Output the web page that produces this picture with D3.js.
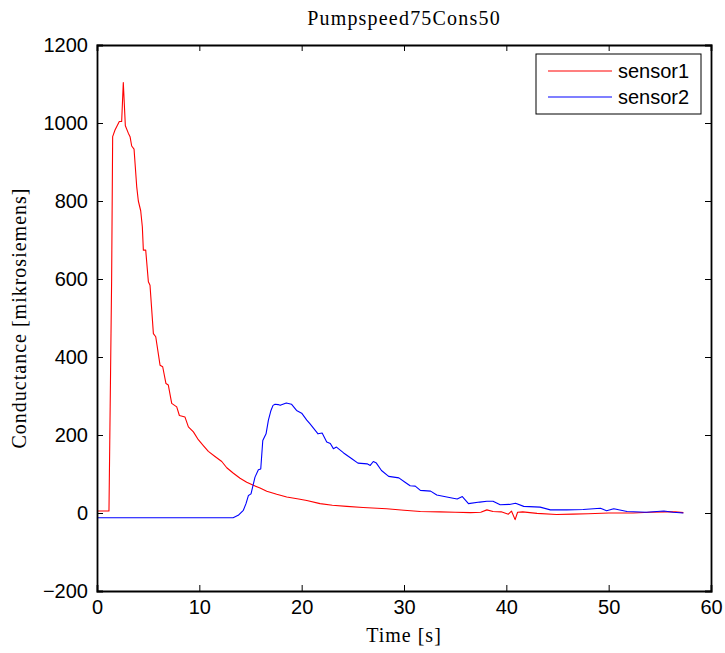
<!DOCTYPE html>
<html>
<head>
<meta charset="utf-8">
<script src="https://cdn.jsdelivr.net/npm/d3@7"></script>
<style>
  html, body { margin: 0; padding: 0; background: #ffffff; }
  svg { display: block; }
</style>
</head>
<body>
<div id="chart"></div>
<script>
const chartTitle = "Pumpspeed75Cons50";
const xLabel = "Time [s]";
const yLabel = "Conductance [mikrosiemens]";
const xTicks = [0, 10, 20, 30, 40, 50, 60];
const yTicks = [-200, 0, 200, 400, 600, 800, 1000, 1200];
const seriesNames = ["sensor1", "sensor2"];
const seriesColors = ["#ff0000", "#0000ff"];

const sensor1Time = [0, 1.17, 1.43, 1.53, 1.76, 2.18, 2.41, 2.57, 2.77, 3.06, 3.23, 3.39, 3.62, 3.88, 4.04, 4.27, 4.43,
  4.53, 4.76, 5.02, 5.18, 5.51, 5.74, 6.16, 6.42, 6.74, 6.97, 7.30, 7.79, 8.05, 8.6, 8.93, 9.42, 9.9, 10.39, 10.88,
  11.53, 12.19, 12.68, 13.33, 13.98, 14.63, 15.28, 15.93, 16.59, 17.56, 18.54, 19.7, 20.5, 21.8, 23.0, 24.4,
  26.0, 28.3, 30.0, 31.6, 33.5, 35.0, 36.5, 37.5, 38.1, 38.7, 39.5, 40.2, 40.5, 40.86, 41.1, 41.6, 43.0, 44.9, 46.5,
  48.0, 50.0, 52.4, 54.0, 55.5, 56.5, 57.3];
const sensor1Values = [5, 5, 600, 965, 982, 1004, 1004, 1104, 993, 974, 965, 941, 933, 837, 800, 775, 734,
  674, 674, 593, 584, 460, 452, 379, 375, 332, 328, 281, 272, 250, 246, 221, 208, 188, 173, 158,
  145, 132, 116, 102, 89, 79, 71, 64, 56, 48, 41, 36, 32, 24, 20, 17,
  14, 11, 7, 4, 3, 2, 1, 2, 8, 4, 3, -3, 5, -17, 2, 3, -1, -4, -3,
  -2, 0, 0, 2, 3, 3, 1];

const sensor2Time = [0, 13.3, 13.8, 14.3, 14.56, 14.8, 15.05, 15.44, 15.77, 16.0, 16.2, 16.52, 16.75, 17.0, 17.2, 17.4,
  17.7, 17.9, 18.5, 19.0, 19.5, 20.0, 20.5, 20.8, 21.6, 22.0, 22.45, 22.8, 23.1, 23.4, 24.1, 24.9, 25.5, 26.4, 26.7,
  27.0, 27.3, 27.8, 28.5, 29.5, 30.1, 30.6, 31.1, 31.6, 32.6, 33.2, 34.8, 35.2, 35.7, 36.3, 37.4, 38.1, 38.7, 39.4,
  40.3, 40.9, 41.7, 43.3, 44.3, 45.9, 47.5, 49.2, 49.8, 50.5, 51.8, 53.7, 55.4, 56.3, 57.3];
const sensor2Values = [-12, -12, -6, 7, 24, 45, 49, 92, 111, 113, 186, 203, 238, 263, 276, 279,
  278, 276, 282, 279, 263, 256, 238, 229, 203, 205, 182, 178, 165, 169, 154, 139, 128, 126, 122,
  132, 128, 109, 94, 90, 79, 70, 69, 58, 56, 46, 38, 36, 42, 24, 28, 30, 30, 21,
  22, 25, 17, 15, 8, 8, 9, 12, 6, 11, 4, 2, 5, 2, 0];

const width = 725;
const height = 653;
const margin = { top: 45, right: 14, bottom: 62, left: 97 };
const innerW = width - margin.left - margin.right;
const innerH = height - margin.top - margin.bottom;

const svg = d3.select("#chart").append("svg")
  .attr("width", width)
  .attr("height", height)
  .attr("viewBox", `0 0 ${width} ${height}`);

const x = d3.scaleLinear().domain([0, 60]).range([0, innerW]);
const y = d3.scaleLinear().domain([-200, 1200]).range([innerH, 0]);

const plot = svg.append("g").attr("transform", `translate(${margin.left},${margin.top})`);

const clip = svg.append("defs").append("clipPath").attr("id", "plot-clip");
clip.append("rect").attr("width", innerW).attr("height", innerH);

// series
const line = d3.line().x((d) => x(d[0])).y((d) => y(d[1]));
const seriesData = [
  d3.zip(sensor1Time, sensor1Values),
  d3.zip(sensor2Time, sensor2Values),
];

plot.append("g")
  .attr("clip-path", "url(#plot-clip)")
  .selectAll("path")
  .data(seriesData)
  .join("path")
  .attr("d", line)
  .attr("fill", "none")
  .attr("stroke", (_, i) => seriesColors[i])
  .attr("stroke-width", 1.1)
  .attr("stroke-linejoin", "round");

// axes with inward ticks (MATLAB style)
const tickFont = "'Liberation Sans', Arial, sans-serif";
const tickLen = 6;

const bottomAxis = plot.append("g")
  .attr("transform", `translate(0,${innerH})`)
  .call(d3.axisBottom(x).tickValues(xTicks).tickSize(-tickLen).tickPadding(9).tickFormat(d3.format("d")));
const topAxis = plot.append("g")
  .call(d3.axisTop(x).tickValues(xTicks).tickSize(-tickLen).tickFormat(""));
const leftAxis = plot.append("g")
  .call(d3.axisLeft(y).tickValues(yTicks).tickSize(-tickLen).tickPadding(9)
    .tickFormat((d) => (d < 0 ? "\u2212" + Math.abs(d) : String(d))));
const rightAxis = plot.append("g")
  .attr("transform", `translate(${innerW},0)`)
  .call(d3.axisRight(y).tickValues(yTicks).tickSize(-tickLen).tickFormat(""));

[bottomAxis, topAxis, leftAxis, rightAxis].forEach((axis) => {
  axis.select(".domain").attr("stroke", "#000").attr("stroke-width", 1.8);
  axis.selectAll(".tick line").attr("stroke", "#000").attr("stroke-width", 1);
  axis.selectAll(".tick text")
    .attr("fill", "#000")
    .style("font-family", tickFont)
    .style("font-size", "20px");
});
bottomAxis.selectAll(".tick text").attr("dy", "0.72em");

// labels
const serif = "'Liberation Serif', serif";
svg.append("text")
  .attr("x", margin.left + innerW / 2)
  .attr("y", 25)
  .attr("text-anchor", "middle")
  .style("font-family", serif)
  .style("font-size", "20px")
  .style("letter-spacing", "1.2px")
  .text(chartTitle);

svg.append("text")
  .attr("x", margin.left + innerW / 2)
  .attr("y", 642)
  .attr("text-anchor", "middle")
  .style("font-family", serif)
  .style("font-size", "20px")
  .style("letter-spacing", "1px")
  .text(xLabel);

svg.append("text")
  .attr("transform", `translate(26,${margin.top + innerH / 2}) rotate(-90)`)
  .attr("text-anchor", "middle")
  .style("font-family", serif)
  .style("font-size", "20px")
  .style("letter-spacing", "1px")
  .text(yLabel);

// legend
const legend = plot.append("g").attr("transform", `translate(${439},${9})`);
legend.append("rect")
  .attr("width", 165)
  .attr("height", 60)
  .attr("fill", "#fff")
  .attr("stroke", "#000")
  .attr("stroke-width", 1);
const legendItems = legend.selectAll("g.item")
  .data(seriesNames)
  .join("g")
  .attr("class", "item")
  .attr("transform", (_, i) => `translate(0,${17 + i * 26})`);
legendItems.append("line")
  .attr("x1", 12).attr("x2", 76)
  .attr("stroke", (_, i) => seriesColors[i])
  .attr("stroke-width", 1.1);
legendItems.append("text")
  .attr("x", 82)
  .attr("dy", "0.35em")
  .style("font-family", tickFont)
  .style("font-size", "20px")
  .text((d) => d);
</script>
</body>
</html>
